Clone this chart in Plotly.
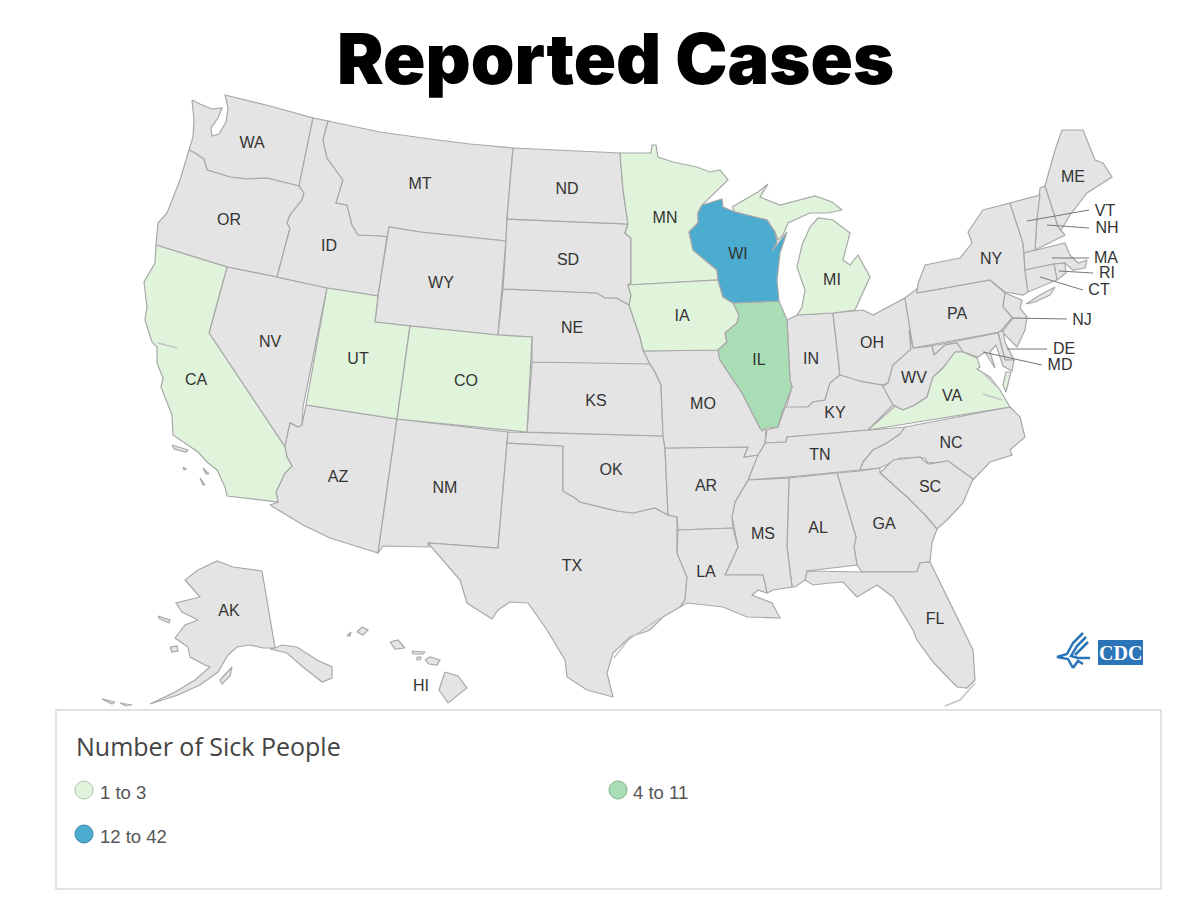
import plotly.graph_objects as go

# state outlines, in picture pixels (the base map topojson needs network)
WA = [(192,100),(200,104),(212,109),(222,108),(218,118),(211,128),(212,136),(219,134),(226,122),(228,108),(225,95),(270,106),(313,118),(299,186),(267,178),(247,179),(230,177),(217,173),(207,170),(204,159),(195,153),(189,150),(193,137),(194,120)]
OR = [(189,150),(195,153),(204,159),(207,170),(217,173),(230,177),(247,179),(267,178),(299,186),(304,193),(302,200),(290,215),(287,223),(290,228),(277,277),(227,267),(156,245),(158,223),(167,213),(180,180)]
CA = [(156,245),(227,267),(209,333),(285,447),(287,457),(292,466),(285,473),(276,492),(278,502),(227,496),(225,487),(217,470),(208,463),(198,452),(173,435),(172,415),(161,387),(163,378),(157,363),(157,347),(152,342),(145,320),(147,307),(144,282),(155,263)]
NV = [(227,267),(277,277),(327,288),(303,407),(302,425),(298,427),(290,423),(288,432),(285,447),(209,333)]
ID = [(313,118),(328,121),(323,140),(327,158),(343,180),(336,203),(347,205),(352,225),(358,235),(382,236),(387,237),(378,296),(327,288),(277,277),(290,228),(287,223),(290,215),(302,200),(304,193),(299,186)]
MT = [(328,121),(380,132),(430,139),(470,144),(513,148),(507,219),(506,241),(420,232),(389,227),(387,237),(382,236),(358,235),(352,225),(347,205),(336,203),(343,180),(327,158),(323,140)]
WY = [(389,227),(420,232),(506,241),(498,335),(430,328),(375,322),(378,296),(387,237)]
UT = [(327,288),(378,296),(375,322),(410,326),(397,419),(306,405)]
CO = [(410,326),(498,335),(532,337),(527,432),(397,419)]
AZ = [(306,405),(397,419),(378,553),(330,538),(303,525),(270,505),(278,502),(276,492),(285,473),(292,466),(287,457),(285,447),(288,432),(290,423),(298,427),(302,425)]
NM = [(397,419),(508,432),(507,443),(498,548),(428,543),(429,547),(383,546),(378,553)]
TX = [(507,443),(563,446),(563,491),(575,498),(580,502),(600,507),(617,511),(633,513),(655,508),(668,515),(677,517),(677,553),(687,577),(685,600),(680,607),(663,617),(650,630),(630,637),(613,653),(607,673),(613,697),(587,690),(567,677),(565,660),(547,630),(528,603),(510,602),(498,610),(492,619),(467,603),(460,580),(428,543),(498,548)]
OK = [(508,432),(663,436),(665,448),(668,515),(655,508),(633,513),(617,511),(600,507),(580,502),(575,498),(563,491),(563,446),(507,443)]
KS = [(532,362),(640,363),(650,364),(655,372),(661,385),(663,436),(527,432)]
NE = [(503,289),(597,293),(605,298),(617,298),(629,305),(634,320),(640,337),(643,350),(650,364),(532,362),(532,337),(498,335)]
SD = [(507,219),(628,224),(625,233),(631,238),(631,283),(628,285),(631,295),(629,305),(617,298),(605,298),(597,293),(503,289),(506,241)]
ND = [(513,148),(620,153),(623,190),(628,224),(507,219)]
MN = [(620,153),(651,153),(652,145),(656,145),(658,157),(673,162),(697,167),(710,172),(720,170),(728,180),(702,205),(698,213),(698,223),(689,232),(693,250),(717,270),(718,280),(628,285),(631,283),(631,238),(625,233),(628,224),(623,190)]
WI = [(702,205),(722,199),(723,207),(735,212),(767,220),(775,232),(777,242),(772,251),(787,232),(780,253),(777,280),(779,301),(733,303),(723,297),(718,280),(717,270),(693,250),(689,232),(698,223),(698,213)]
IA = [(628,285),(718,280),(723,297),(733,303),(739,315),(737,323),(725,333),(727,342),(718,350),(645,351),(643,350),(640,337),(634,320),(629,305),(631,295)]
IL = [(733,303),(779,301),(787,320),(790,380),(792,387),(785,405),(782,413),(778,427),(767,428),(762,431),(760,428),(742,393),(720,360),(718,350),(727,342),(725,333),(737,323),(739,315)]
IN = [(787,320),(797,315),(833,313),(840,375),(830,383),(825,400),(813,402),(808,407),(786,408),(792,387),(790,380)]
MI_LOWER = [(797,315),(802,307),(805,290),(797,267),(802,245),(810,227),(818,218),(833,220),(850,233),(843,260),(850,265),(858,255),(870,277),(863,293),(855,310),(833,313)]
MI_UPPER = [(732,207),(758,192),(768,184),(760,197),(780,205),(815,196),(832,202),(842,210),(827,213),(810,213),(788,223),(783,235),(778,240),(775,232),(767,220),(735,212)]
OH = [(833,313),(863,310),(873,315),(905,298),(910,328),(913,348),(893,365),(888,383),(882,385),(863,382),(855,380),(840,375)]
PA = [(905,298),(918,288),(917,293),(990,280),(1005,293),(1003,305),(1012,318),(1000,332),(913,348)]
NY = [(917,293),(918,284),(925,265),(960,258),(972,243),(968,232),(983,210),(1010,203),(1023,243),(1025,270),(1028,292),(1023,295),(1005,292),(990,280)]
LONG_ISLAND = [(1026,304),(1040,295),(1055,287),(1050,295),(1035,302)]
NJ = [(1005,293),(1022,300),(1020,308),(1027,317),(1025,330),(1017,347),(1010,340),(1002,332),(1013,318),(1003,307)]
DE = [(998,332),(1003,331),(1005,342),(1014,360),(1005,360)]
MD = [(932,346),(998,333),(1005,360),(1014,360),(1012,371),(1003,366),(996,345),(990,352),(995,368),(985,352),(978,357),(963,352),(957,343),(945,345),(934,355)]
WV = [(909,330),(913,348),(932,346),(934,355),(945,345),(957,343),(963,352),(955,352),(943,368),(933,377),(927,397),(915,405),(903,410),(893,405),(882,387),(888,383),(893,365),(911,349)]
VA = [(868,430),(895,406),(903,410),(915,405),(927,397),(933,377),(943,368),(955,352),(963,352),(977,358),(980,367),(977,369),(990,377),(1000,390),(1010,407)]
VA_SHORE = [(1011,372),(1006,392),(1003,385),(1006,372)]
KY = [(840,375),(855,380),(863,382),(882,385),(893,405),(868,430),(787,437),(786,442),(765,443),(767,430),(778,427),(785,407),(808,407),(813,402),(825,400),(830,383)]
TN = [(748,480),(752,470),(757,455),(761,450),(765,443),(786,442),(787,437),(868,430),(905,427),(900,434),(887,443),(873,450),(863,462),(860,470),(788,477)]
NC = [(905,427),(1010,407),(1020,417),(1025,437),(1010,450),(1012,455),(990,462),(973,480),(943,462),(928,463),(925,458),(900,458),(880,468),(860,470),(863,462),(873,450),(887,443),(900,434)]
SC = [(880,473),(893,460),(920,457),(928,464),(948,461),(973,479),(963,503),(947,520),(937,529),(925,515),(907,497)]
GA = [(837,473),(860,471),(880,468),(880,473),(907,497),(925,515),(937,529),(932,543),(930,562),(920,563),(917,572),(862,572),(857,565),(854,547),(856,537)]
AL = [(789,478),(837,473),(856,537),(854,547),(857,565),(807,571),(810,580),(805,580),(795,587),(792,587),(787,547)]
MS = [(748,480),(789,478),(787,547),(792,587),(773,590),(767,593),(763,575),(725,575),(738,547),(732,517),(735,502)]
AR = [(665,448),(748,447),(744,457),(758,455),(748,480),(735,502),(732,517),(733,528),(678,530),(677,517),(668,515)]
MO = [(645,351),(718,350),(720,360),(742,393),(760,428),(766,430),(765,443),(758,455),(744,457),(748,447),(665,448),(663,436),(661,385),(655,372),(650,364),(643,350)]
LA = [(678,530),(733,528),(738,547),(725,575),(763,575),(767,593),(758,590),(752,595),(772,603),(780,618),(747,617),(723,607),(687,603),(680,607),(685,600),(687,577),(677,553)]
FL = [(807,571),(862,572),(917,572),(920,563),(930,562),(950,603),(973,650),(975,680),(967,688),(957,687),(933,662),(917,640),(913,630),(893,597),(877,585),(857,597),(843,582),(830,583),(813,585),(805,580)]
ME = [(1045,186),(1055,150),(1062,130),(1083,130),(1095,160),(1103,163),(1112,177),(1087,193),(1070,215),(1060,232),(1058,227)]
NH = [(1040,188),(1045,186),(1058,227),(1065,235),(1035,250),(1037,218)]
VT = [(1010,203),(1040,195),(1037,218),(1035,250),(1024,253),(1023,243)]
MA = [(1024,253),(1065,243),(1070,255),(1078,263),(1087,260),(1085,268),(1073,270),(1065,263),(1054,264),(1025,270)]
RI = [(1054,264),(1065,263),(1066,273),(1057,280)]
CT = [(1025,270),(1054,264),(1057,280),(1028,292)]
AK = [(262,571),(275,648),(263,648),(250,645),(237,647),(228,655),(218,672),(200,685),(178,695),(150,704),(175,692),(195,680),(210,667),(205,665),(190,657),(188,647),(175,638),(185,625),(198,620),(182,612),(176,603),(200,597),(185,580),(198,570),(217,561),(233,567)]
AK_PANHANDLE = [(275,648),(282,645),(297,647),(317,660),(332,667),(332,678),(322,682),(303,667),(287,653),(270,649)]
AK_ISLANDS = [
    [(170,647),(177,646),(178,651),(172,652)],
    [(158,616),(170,620),(169,623),(160,619)],
    [(220,680),(232,667),(230,676),(222,684)],
    [(102,699),(115,702),(112,704)],
    [(120,703),(132,705),(126,706)],
]
HI = [
    [(445,672),(458,676),(467,688),(448,703),(439,690)],
    [(425,660),(430,657),(440,660),(437,665),(429,664)],
    [(412,651),(425,652),(423,654),(413,654)],
    [(417,657),(421,657),(420,660),(417,660)],
    [(390,642),(398,640),(405,648),(395,649)],
    [(357,632),(362,627),(368,630),(363,635)],
    [(347,636),(351,632),(350,636)],
]
CA_ISLANDS = [
    [(172,445),(188,450),(186,452),(174,449)],
    [(183,467),(186,469),(184,470)],
    [(203,468),(209,474),(206,474)],
    [(200,478),(205,485),(203,485)],
]

low_outlines = [CA, UT, CO, MN, IA, MI_LOWER, MI_UPPER, VA, VA_SHORE]
mid_outlines = [IL]
high_outlines = [WI]
other_outlines = [WA, OR, NV, ID, MT, WY, AZ, NM, TX, OK, KS, NE, SD, ND, IN, OH, PA, NY, LONG_ISLAND, NJ, DE, MD, WV, KY, TN, NC, SC, GA, AL, MS, AR, MO, LA, FL, ME, NH, VT, MA, RI, CT, AK, AK_PANHANDLE] + AK_ISLANDS + HI + CA_ISLANDS

# small coast details
sf_bay = [(158,343),(165,345),(177,348)]
fl_keys = [(945,706),(960,700),(975,683)]
va_river_1 = [(982,372),(992,382),(998,388)]
va_river_2 = [(983,394),(995,398),(1002,400)]
tx_barrier = [(660,618),(645,628),(628,640),(614,658)]
coast_details = [sf_bay, fl_keys, va_river_1, va_river_2, tx_barrier]

state_labels = ["WA","OR","CA","NV","ID","MT","WY","UT","CO","AZ","NM","ND","SD","NE","KS","OK","TX","MN","IA","MO","AR","LA","WI","IL","MI","IN","OH","KY","TN","MS","AL","GA","FL","SC","NC","VA","WV","PA","NY","ME","VT","NH","MA","RI","CT","NJ","DE","MD","AK","HI"]
label_x = [252,229,196,270,329,420,441,358,466,338,445,567,568,572,596,611,572,665,682,703,706,706,738,759,832,811,872,835,820,763,818,884,935,930,951,952,914,957,991,1073,1105,1107,1106,1107,1099,1082,1064,1060,229,421]
label_y = [144,221,381,343,247,185,284,360,382,478,489,190,261,329,402,471,567,219,317,405,487,573,255,361,281,360,344,414,456,535,529,525,620,488,444,397,379,315,260,178,212,229,259,274,291,321,350,366,612,687]

# leader lines of the small eastern states
leader_VT = [(1027,221),(1089,210)]
leader_NH = [(1047,225),(1089,228)]
leader_MA = [(1052,258),(1089,258)]
leader_RI = [(1059,271),(1093,273)]
leader_CT = [(1040,277),(1083,290)]
leader_NJ = [(1013,318),(1067,319)]
leader_DE = [(1007,349),(1047,349)]
leader_MD = [(983,352),(1042,365)]
leaders = [leader_VT, leader_NH, leader_MA, leader_RI, leader_CT, leader_NJ, leader_DE, leader_MD]

# legend
legend_labels = ["1 to 3", "4 to 11", "12 to 42"]
legend_colors = ["#e0f3db", "#a8ddb5", "#4bacd0"]
legend_edges = ["#a9c4a4", "#7fb08e", "#3a86a3"]
legend_x = [84, 618, 84]
legend_y = [790, 790, 834]
legend_text_x = [100, 633, 100]
legend_text_y = [794, 794, 838]

# cdc logo strokes
eagle_strokes = [
    [(1083,633),(1073,643),(1067,654),(1057,657),(1068,659),(1073,668)],
    [(1086,637),(1077,646),(1071,656),(1078,658),(1090,658)],
    [(1088,642),(1080,650),(1075,655)],
    [(1073,668),(1078,661),(1083,664)],
]

NEUTRAL = "#e4e4e4"
EDGE = "#a8a8a8"

fig = go.Figure()


def add_outline(pts, color):
    xs, ys = zip(*(pts + [pts[0]]))
    fig.add_trace(go.Scatter(x=xs, y=ys, mode="lines", fill="toself", fillcolor=color,
                             line=dict(color=EDGE, width=1.2), hoverinfo="skip"))


def add_line(pts, color, width):
    xs, ys = zip(*pts)
    fig.add_trace(go.Scatter(x=xs, y=ys, mode="lines", line=dict(color=color, width=width), hoverinfo="skip"))


for pts in other_outlines:
    add_outline(pts, NEUTRAL)
for pts in low_outlines:
    add_outline(pts, legend_colors[0])
for pts in mid_outlines:
    add_outline(pts, legend_colors[1])
for pts in high_outlines:
    add_outline(pts, legend_colors[2])

for pts in coast_details:
    add_line(pts, "#c4c4c4", 1.5)
for pts in leaders:
    add_line(pts, "#777777", 1)

fig.add_trace(go.Scatter(x=label_x, y=label_y, mode="text", text=state_labels, textposition="middle center",
                         textfont=dict(family="Liberation Sans", size=16, color="#333333"), hoverinfo="skip"))

# cdc logo
fig.add_shape(type="rect", x0=1098, x1=1143, y0=640, y1=665, fillcolor="#2b74b8", line=dict(width=0))
fig.add_annotation(x=1120.5, y=652.5, text="<b>CDC</b>", showarrow=False,
                   font=dict(family="Liberation Serif", size=20, color="white"))
for pts in eagle_strokes:
    add_line(pts, "#2b74b8", 2.5)

# legend box
fig.add_shape(type="rect", x0=56, x1=1161, y0=710, y1=889, fillcolor="white", line=dict(color="#d9d9d9", width=1.5), layer="below")
fig.add_annotation(x=74, y=746, text="Number of Sick People", showarrow=False, xanchor="left",
                   font=dict(family="Open Sans", size=25, color="#444444"))
fig.add_trace(go.Scatter(x=legend_x, y=legend_y, mode="markers",
                         marker=dict(size=18, color=legend_colors, line=dict(color=legend_edges, width=1)),
                         hoverinfo="skip"))
fig.add_trace(go.Scatter(x=legend_text_x, y=legend_text_y, mode="text", text=legend_labels, textposition="middle right",
                         textfont=dict(family="Liberation Sans", size=18.5, color="#555555"), hoverinfo="skip"))

fig.add_annotation(x=615, y=58, text="Reported Cases", showarrow=False,
                   font=dict(family="Inter", size=70, color="#000000", weight=900))

fig.update_layout(width=1200, height=900, margin=dict(l=0, r=0, t=0, b=0), showlegend=False,
                  paper_bgcolor="white", plot_bgcolor="white",
                  xaxis=dict(range=[0, 1200], visible=False),
                  yaxis=dict(range=[900, 0], visible=False))

fig.write_html("out.html", config={"displayModeBar": False}, post_script="document.body.style.margin='0';")
